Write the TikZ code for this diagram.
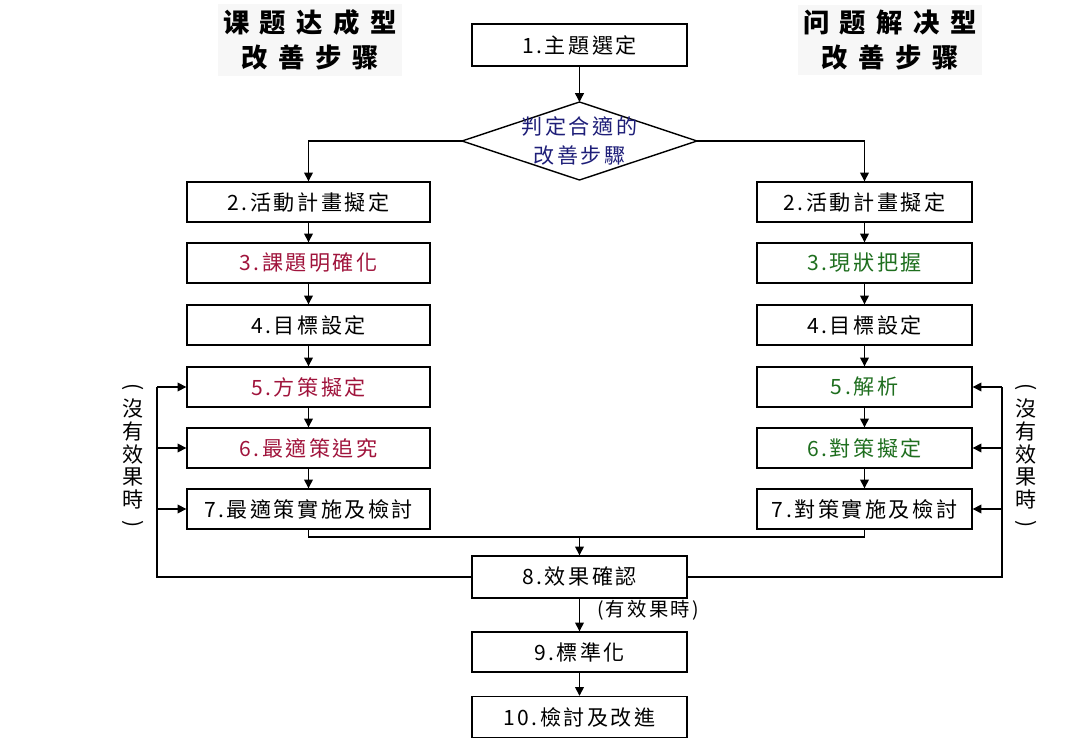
\documentclass[tikz,border=0pt]{standalone}
\usepackage{fontspec}
\usetikzlibrary{shapes.geometric,arrows.meta}
\newfontfamily\cjk[LetterSpace=12]{Noto Sans CJK TC}
\newfontfamily\cjkt[LetterSpace=40]{Noto Sans CJK SC}
\definecolor{cred}{RGB}{160,20,60}
\definecolor{cgreen}{RGB}{30,110,30}
\definecolor{cnavy}{RGB}{30,30,120}
\newcommand{\vparen}[1]{\makebox[1em][c]{\rotatebox[origin=c]{-90}{#1}}}
\begin{document}
\begin{tikzpicture}[x=0.02cm,y=-0.02cm,
  box/.style={draw,thick,minimum height=0.8cm,inner sep=0pt,font=\cjk\fontsize{12}{14}\selectfont},
  bl/.style={box,minimum width=4.86cm},
  br/.style={box,minimum width=4.3cm},
  bc/.style={box,minimum width=4.3cm,minimum height=0.84cm},
  ar/.style={-{Triangle[length=5pt,width=5pt]},thick},
  ln/.style={thick},
  note/.style={font=\cjk\fontsize{12}{13}\selectfont,align=center},
  ttl/.style={font=\cjkt\bfseries\fontsize{15}{20}\selectfont,align=center,fill=gray!6,inner sep=3pt}]
\useasboundingbox (0,0) rectangle (1080,743);
\node[ttl] (tl) at (310,40) {课题达成型\\改善步骤};
\node[ttl] (tr) at (890,40) {问题解决型\\改善步骤};
\node[bc] (n1) at (579.5,45) {1.主題選定};
\coordinate (dn) at (579.5,102);
\coordinate (ds) at (579.5,180);
\coordinate (dw) at (462,141);
\coordinate (de) at (697,141);
\draw[thick] (dn) -- (de) -- (ds) -- (dw) -- cycle;
\node[align=center,text=cnavy,font=\cjk\fontsize{12}{17}\selectfont] (d) at (579.5,141) {判定合適的\\改善步驟};
\node[bl] (l2) at (308.5,202) {2.活動計畫擬定};
\node[bl,text=cred] (l3) at (308.5,263) {3.課題明確化};
\node[bl] (l4) at (308.5,325) {4.目標設定};
\node[bl,text=cred] (l5) at (308.5,387) {5.方策擬定};
\node[bl,text=cred] (l6) at (308.5,448) {6.最適策追究};
\node[bl] (l7) at (308.5,509) {7.最適策實施及檢討};
\node[br] (r2) at (864.5,202) {2.活動計畫擬定};
\node[br,text=cgreen] (r3) at (864.5,263) {3.現狀把握};
\node[br] (r4) at (864.5,325) {4.目標設定};
\node[br,text=cgreen] (r5) at (864.5,387) {5.解析};
\node[br,text=cgreen] (r6) at (864.5,448) {6.對策擬定};
\node[br] (r7) at (864.5,509) {7.對策實施及檢討};
\node[bc] (n8) at (579.5,577) {8.效果確認};
\node[bc,minimum height=0.8cm] (n9) at (579.5,652) {9.標準化};
\node[bc,minimum height=0.82cm] (n10) at (579.5,717) {10.檢討及改進};
\draw[ar] (n1) -- (dn);
\draw[ar] (dw) -| (l2.north);
\draw[ar] (de) -| (r2.north);
\foreach \a/\b in {l2/l3,l3/l4,l4/l5,l5/l6,l6/l7,r2/r3,r3/r4,r4/r5,r5/r6,r6/r7,n8/n9,n9/n10}
  \draw[ar] (\a) -- (\b);
\coordinate (jl) at (308.5,537);
\coordinate (jr) at (864.5,537);
\coordinate (jm) at (579.5,537);
\draw[ln] (l7.south) -- (jl) -- (jr) -- (r7.south);
\draw[ar] (jm) -- (n8.north);
\coordinate (fl) at (157,577);
\coordinate (fl5) at (157,387);
\coordinate (fr) at (1002,577);
\coordinate (fr5) at (1002,387);
\draw[ln] (n8.west) -- (fl) -- (fl5);
\draw[ar] (fl5) -- (l5.west);
\draw[ar] (157,448) -- (l6.west);
\draw[ar] (157,509) -- (l7.west);
\draw[ln] (n8.east) -- (fr) -- (fr5);
\draw[ar] (fr5) -- (r5.east);
\draw[ar] (1002,448) -- (r6.east);
\draw[ar] (1002,509) -- (r7.east);
\node[note] (ntl) at (133,457) {\vparen{(}\\沒\\有\\效\\果\\時\\\vparen{)}};
\node[note] (ntr) at (1026,457) {\vparen{(}\\沒\\有\\效\\果\\時\\\vparen{)}};
\node[font=\cjk\fontsize{11}{13}\selectfont] (nt8) at (648,610) {(有效果時)};
\end{tikzpicture}
\end{document}
